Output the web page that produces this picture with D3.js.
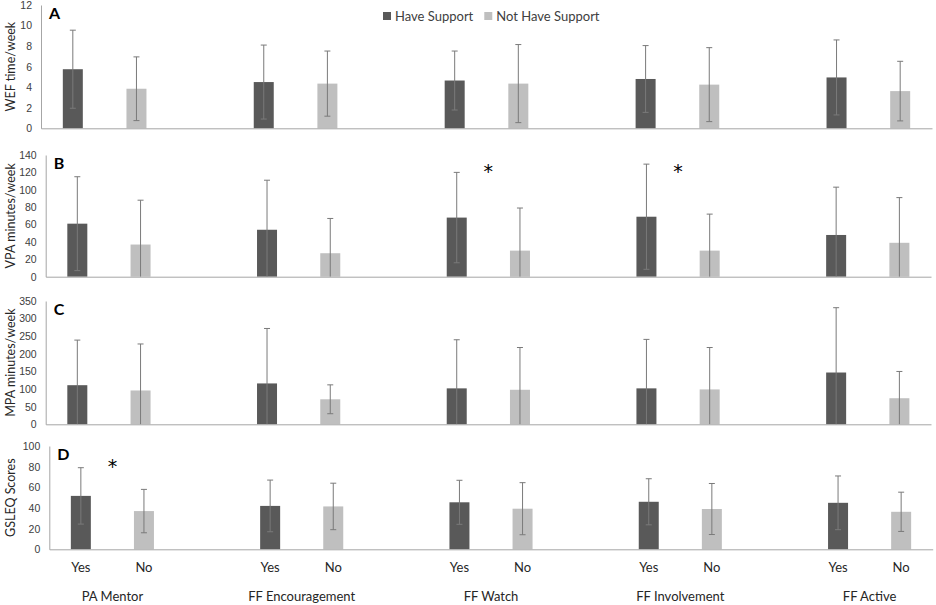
<!DOCTYPE html>
<html>
<head>
<meta charset="utf-8">
<script src="https://cdn.jsdelivr.net/npm/d3@7"></script>
<style>
  body { margin: 0; background: #fff; }
  svg { font-family: Lato, "Open Sans", sans-serif; }
</style>
</head>
<body>
<svg id="chart" width="936" height="605"></svg>
<script>
// categories and series
const groups = ["PA Mentor", "FF Encouragement", "FF Watch", "FF Involvement", "FF Active"];
const seriesNames = ["Have Support", "Not Have Support"];
const barLabels = ["Yes", "No"];

// A: WEF time/week
const wefHave = [5.75, 4.5, 4.65, 4.8, 4.95];
const wefHaveSd = [3.8, 3.6, 2.87, 3.25, 3.65];
const wefNot = [3.85, 4.35, 4.35, 4.25, 3.62];
const wefNotSd = [3.1, 3.17, 3.8, 3.6, 2.9];
const wefTicks = [0, 2, 4, 6, 8, 10, 12];

// B: VPA minutes/week
const vpaHave = [61, 54, 68, 69, 48];
const vpaHaveSd = [54, 57, 52, 60.5, 55];
const vpaNot = [37, 27, 30, 30, 39];
const vpaNotSd = [51, 40, 49, 42, 52];
const vpaTicks = [0, 20, 40, 60, 80, 100, 120, 140];

// C: MPA minutes/week
const mpaHave = [111, 116, 102, 102, 147];
const mpaHaveSd = [128, 156, 138, 139, 184];
const mpaNot = [96, 71, 98, 99, 74];
const mpaNotSd = [132, 41, 120, 119, 76];
const mpaTicks = [0, 50, 100, 150, 200, 250, 300, 350];

// D: GSLEQ Scores
const gsHave = [51.7, 42, 45.5, 46, 45];
const gsHaveSd = [27.3, 25, 21.3, 22.3, 26];
const gsNot = [37, 41.5, 39.3, 39, 36.3];
const gsNotSd = [21, 22.5, 25.2, 24.7, 19];
const gsTicks = [0, 20, 40, 60, 80, 100];

// significance marks: group and height (data units)
const vpaStars = [["FF Watch", 126], ["FF Involvement", 126]];
const gsStars = [["PA Mentor", 83.5]];

const colors = d3.scaleOrdinal(seriesNames, ["#595959", "#bfbfbf"]);

const svg = d3.select("#chart");

const panels = [
  {letter: "A", title: "WEF time/week", have: wefHave, haveSd: wefHaveSd, not: wefNot, notSd: wefNotSd,
   ticks: wefTicks, stars: [], left: 41, right: 932, top: 5, bottom: 128.3},
  {letter: "B", title: "VPA minutes/week", have: vpaHave, haveSd: vpaHaveSd, not: vpaNot, notSd: vpaNotSd,
   ticks: vpaTicks, stars: vpaStars, left: 45.7, right: 931, top: 155, bottom: 276.7},
  {letter: "C", title: "MPA minutes/week", have: mpaHave, haveSd: mpaHaveSd, not: mpaNot, notSd: mpaNotSd,
   ticks: mpaTicks, stars: [], left: 45.7, right: 931, top: 301, bottom: 424.3},
  {letter: "D", title: "GSLEQ Scores", have: gsHave, haveSd: gsHaveSd, not: gsNot, notSd: gsNotSd,
   ticks: gsTicks, stars: gsStars, left: 49.3, right: 932.7, top: 446, bottom: 549.3}
];

const barW = 20;

panels.forEach((p, pi) => {
  const g = svg.append("g");

  // each group = Yes, No, gap slots; last gap dropped
  const x = d3.scaleBand(groups, [p.left, p.right]).paddingInner(1 / 3).paddingOuter(0);
  const xIn = d3.scaleBand(seriesNames, [0, x.bandwidth()]);
  const y = d3.scaleLinear([0, d3.max(p.ticks)], [p.bottom, p.top]);

  const rows = [];
  groups.forEach((grp, i) => {
    rows.push({grp, s: seriesNames[0], lab: barLabels[0], v: p.have[i], sd: p.haveSd[i]});
    rows.push({grp, s: seriesNames[1], lab: barLabels[1], v: p.not[i], sd: p.notSd[i]});
  });
  const cx = d => x(d.grp) + xIn(d.s) + xIn.bandwidth() / 2;

  g.selectAll("rect").data(rows).join("rect")
    .attr("x", d => cx(d) - barW / 2)
    .attr("width", barW)
    .attr("y", d => y(d.v))
    .attr("height", d => y(0) - y(d.v))
    .attr("fill", d => colors(d.s));

  // error bars (clipped at axis minimum, no cap when clipped)
  const eb = g.selectAll("g.err").data(rows).join("g").attr("class", "err")
    .attr("stroke", "#7a7a7a").attr("stroke-width", 1);
  eb.append("line")
    .attr("x1", cx).attr("x2", cx)
    .attr("y1", d => y(d.v + d.sd))
    .attr("y2", d => y(Math.max(0, d.v - d.sd)));
  eb.append("line")
    .attr("x1", d => cx(d) - 3).attr("x2", d => cx(d) + 3)
    .attr("y1", d => y(d.v + d.sd)).attr("y2", d => y(d.v + d.sd));
  eb.filter(d => d.v - d.sd > 0).append("line")
    .attr("x1", d => cx(d) - 3).attr("x2", d => cx(d) + 3)
    .attr("y1", d => y(d.v - d.sd)).attr("y2", d => y(d.v - d.sd));

  // axes
  const yAxis = g.append("g")
    .attr("transform", `translate(${p.left},0)`)
    .call(d3.axisLeft(y).tickValues(p.ticks).tickSize(0).tickPadding(9).tickSizeOuter(0));
  yAxis.select(".domain").attr("stroke", "#a6a6a6");
  yAxis.selectAll("text").attr("fill", "#404040").style("font-size", "10.5px");

  const xAxis = g.append("g")
    .attr("transform", `translate(0,${p.bottom})`)
    .call(d3.axisBottom(x).tickValues([]).tickSizeOuter(0));
  xAxis.select(".domain").attr("stroke", "#a6a6a6");

  // y title
  g.append("text")
    .attr("transform", `translate(10.5,${(p.top + p.bottom) / 2}) rotate(-90)`)
    .attr("text-anchor", "middle")
    .attr("dy", "0.35em")
    .attr("fill", "#262626")
    .style("font-size", "12.5px")
    .text(p.title);

  // panel letter
  g.append("text")
    .attr("x", p.left + 8)
    .attr("y", p.top + 14)
    .attr("fill", "#000")
    .style("font-size", "16px")
    .style("font-weight", "bold")
    .text(p.letter);

  // stars
  g.selectAll("text.star").data(p.stars).join("text").attr("class", "star")
    .attr("x", d => x(d[0]) + x.bandwidth() / 2)
    .attr("y", d => y(d[1]))
    .attr("dy", "0.55em")
    .attr("text-anchor", "middle")
    .style("font-family", "'DejaVu Sans', sans-serif")
    .style("font-size", "19px")
    .attr("fill", "#000")
    .text("*");

  // bottom labels under last panel
  if (pi === panels.length - 1) {
    g.selectAll("text.yn").data(rows).join("text").attr("class", "yn")
      .attr("x", cx)
      .attr("y", 572)
      .attr("text-anchor", "middle")
      .attr("fill", "#262626")
      .style("font-size", "13px")
      .text(d => d.lab);
    g.selectAll("text.cat").data(groups).join("text").attr("class", "cat")
      .attr("x", d => x(d) + x.bandwidth() / 2)
      .attr("y", 601)
      .attr("text-anchor", "middle")
      .attr("fill", "#262626")
      .style("font-size", "13px")
      .text(d => d);
  }
});

// legend
const legend = svg.append("g").attr("transform", "translate(383,0)");
let lx = 0;
seriesNames.forEach((s) => {
  const item = legend.append("g").attr("transform", `translate(${lx},0)`);
  item.append("rect").attr("x", 0).attr("y", 12).attr("width", 8).attr("height", 8).attr("fill", colors(s));
  const t = item.append("text").attr("x", 12).attr("y", 21)
    .attr("fill", "#404040").style("font-size", "13px").text(s);
  lx += 12 + t.node().getComputedTextLength() + 11;
});
</script>
</body>
</html>
